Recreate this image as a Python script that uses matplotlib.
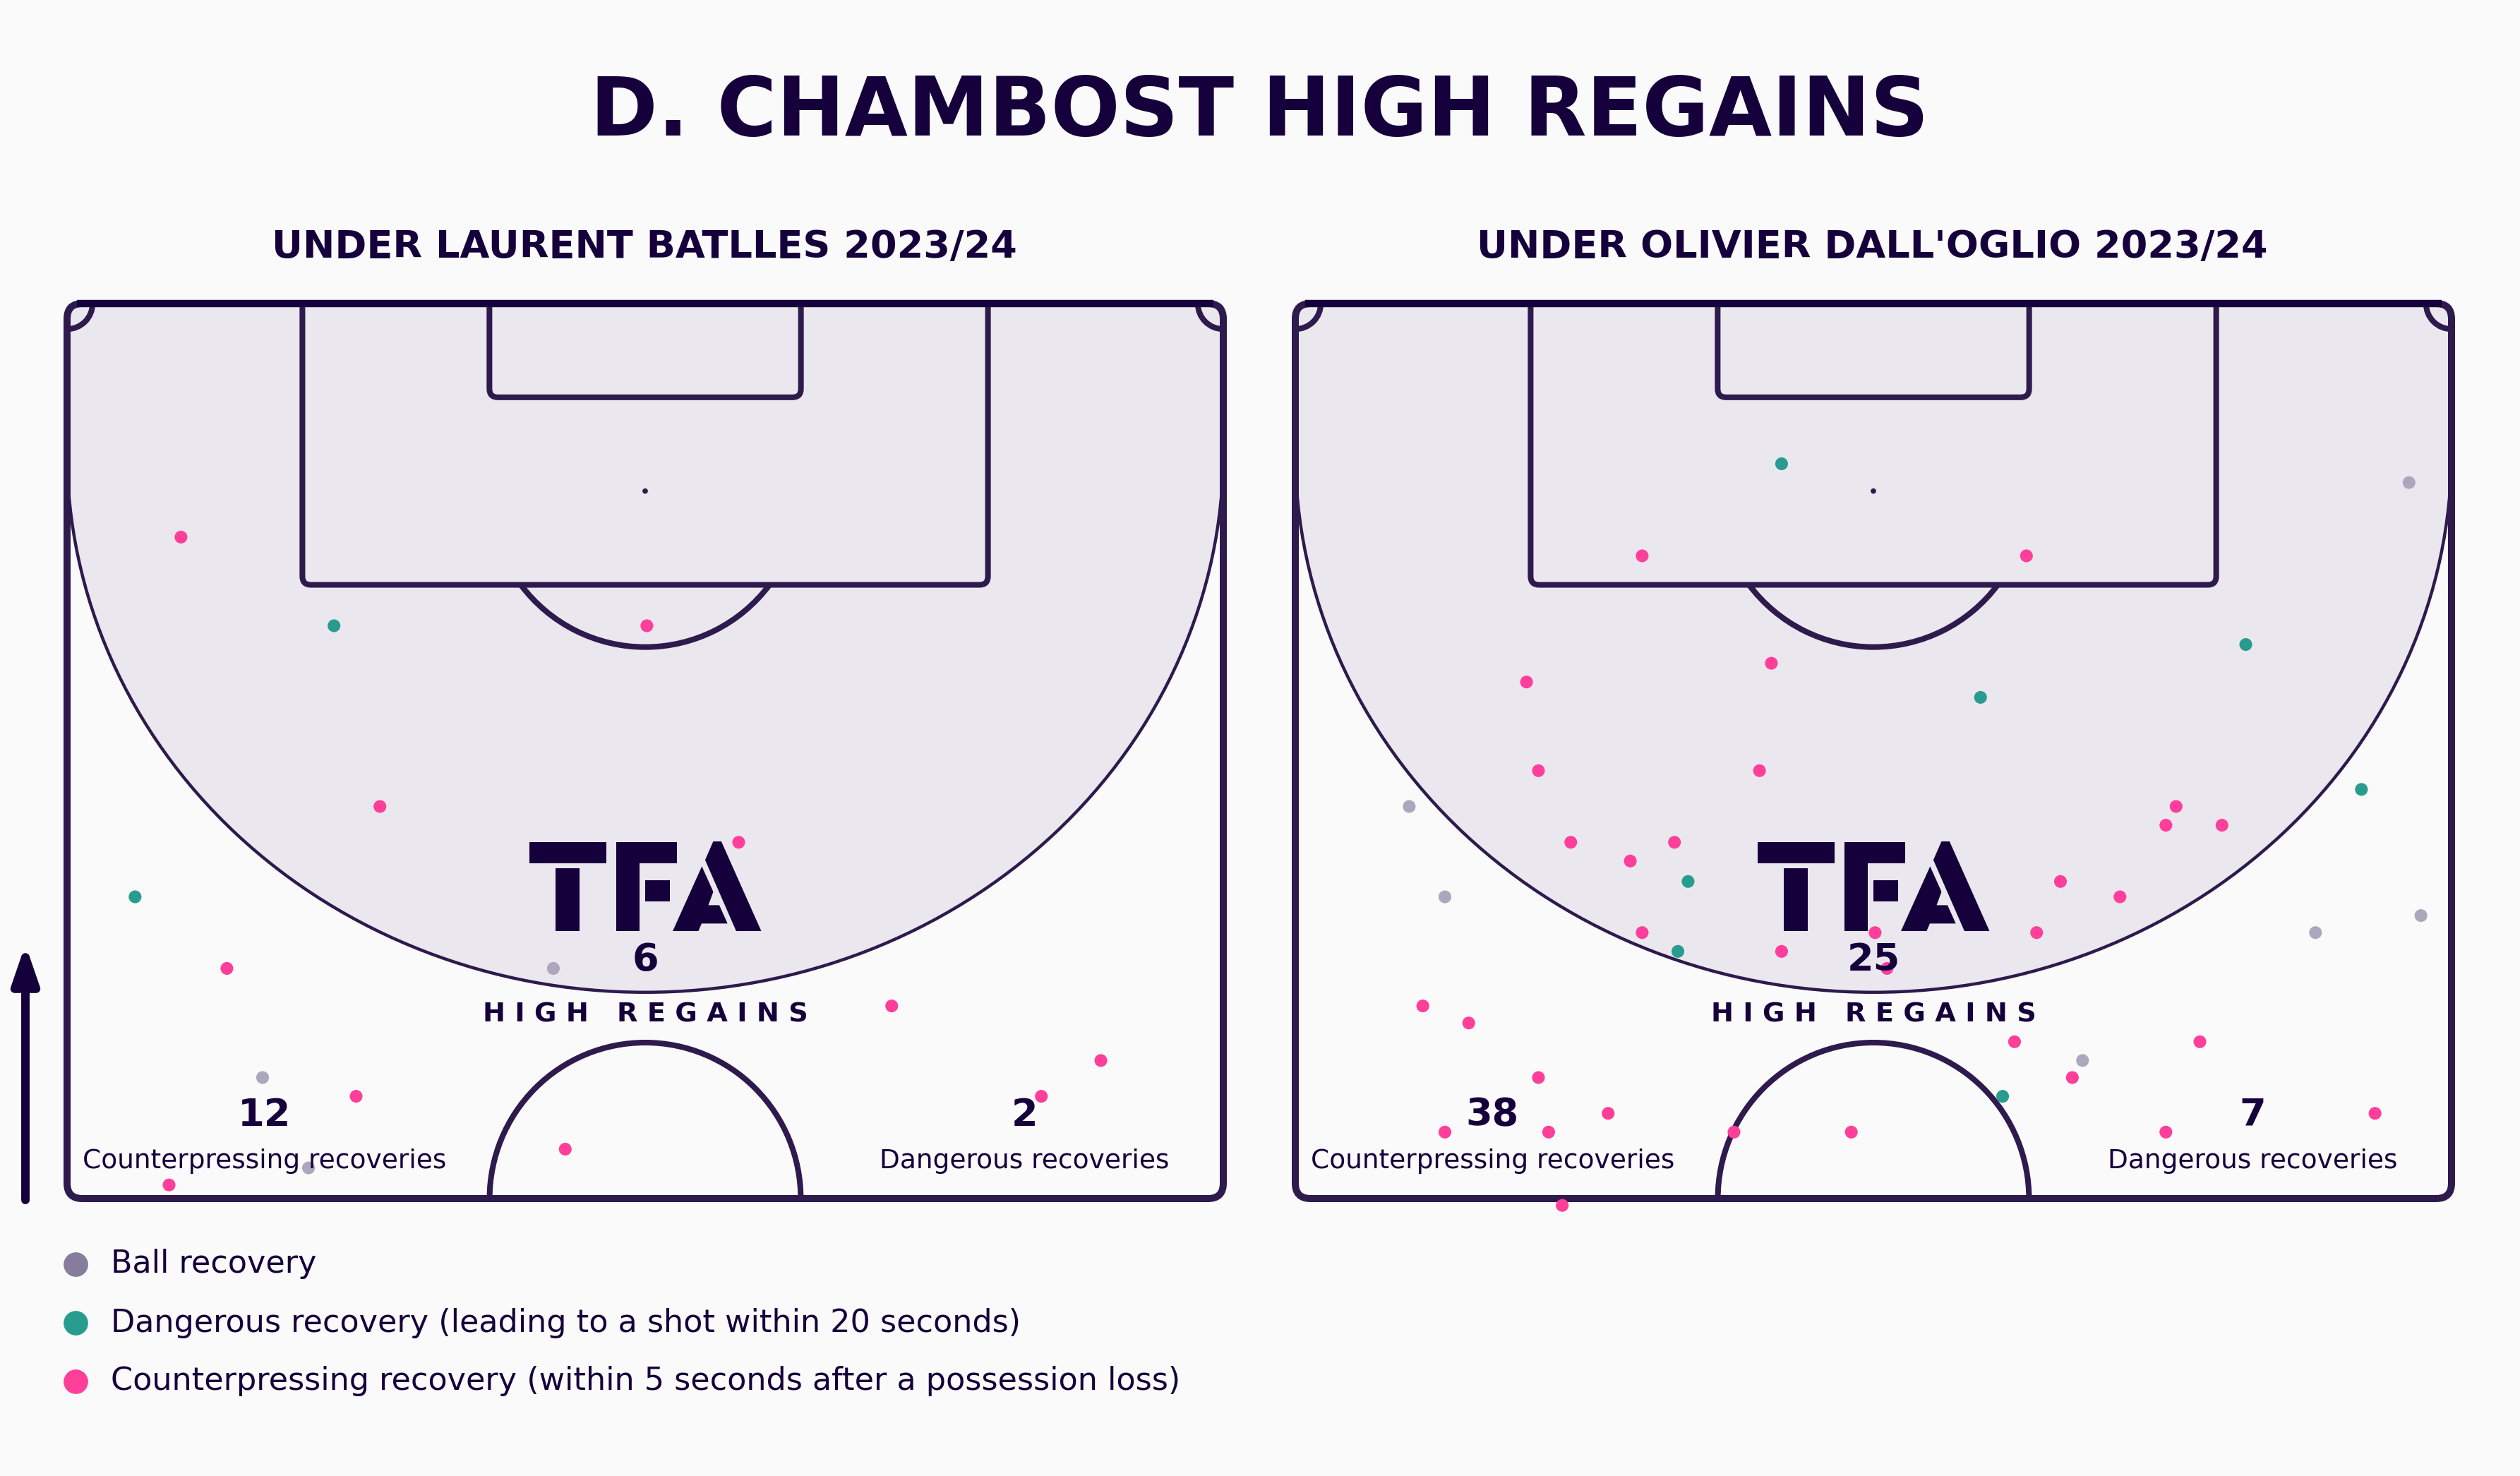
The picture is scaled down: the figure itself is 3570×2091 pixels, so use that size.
import numpy as np
import matplotlib.pyplot as plt
from matplotlib.patches import Polygon, Arc, Circle, FancyBboxPatch

# colours
BG = "#FAFAFA"
ZONE = "#EAE7EE"
LINE = "#2E1A4D"
INK = "#16003B"
GREY = "#867C9B"
GREY_PT = "#ADA7BD"
TEAL = "#289D8F"
PINK = "#FF3F9A"

# pitch is 68 wide, half pitch 52.5 long (0 = halfway line, 52.5 = goal line)
# --- Laurent Batlles
lb_pink_x = [6.7, 34.1, 18.4, 39.5, 9.4, 48.5, 60.8, 17.0, 57.3, 29.3, 6.0]
lb_pink_y = [38.8, 33.6, 23.0, 20.9, 13.5, 11.3, 8.1, 6.0, 6.0, 2.9, 0.8]
lb_teal_x = [15.7, 4.0]
lb_teal_y = [33.6, 17.7]
lb_grey_x = [28.6, 11.5, 14.2]
lb_grey_y = [13.5, 7.1, 1.8]

# --- Olivier Dall'Oglio
od_pink_x = [20.4, 43.0, 28.0, 13.6, 14.3, 27.3, 51.8, 51.2, 54.5, 16.2, 22.3,
             19.7, 45.0, 48.5, 20.4, 34.1, 43.6, 28.6, 34.8, 7.5, 10.2, 42.3,
             53.2, 14.3, 45.7, 18.4, 63.5, 8.8, 14.9, 25.8, 32.7, 51.2, 15.7]
od_pink_y = [37.7, 37.7, 31.4, 30.3, 25.1, 25.1, 23.0, 21.9, 21.9, 20.9, 20.9,
             19.8, 18.6, 17.7, 15.6, 15.6, 15.6, 14.5, 13.5, 11.3, 10.3, 9.2,
             9.2, 7.1, 7.1, 5.0, 5.0, 3.9, 3.9, 3.9, 3.9, 3.9, -0.4]
od_teal_x = [28.6, 55.9, 40.3, 62.7, 23.1, 22.5, 41.6]
od_teal_y = [43.1, 32.5, 29.4, 24.0, 18.6, 14.5, 6.0]
od_grey_x = [65.5, 6.7, 8.8, 66.2, 60.0, 46.3]
od_grey_y = [42.0, 23.0, 17.7, 16.6, 15.6, 8.1]

titles = ["UNDER LAURENT BATLLES 2023/24", "UNDER OLIVIER DALL'OGLIO 2023/24"]
high_regains = [6, 25]
counterpress = [12, 38]
dangerous = [2, 7]

legend_labels = ["Ball recovery",
                 "Dangerous recovery (leading to a shot within 20 seconds)",
                 "Counterpressing recovery (within 5 seconds after a possession loss)"]
legend_colors = [GREY, TEAL, PINK]

W, H = 3570, 2091
plt.rcParams['font.family'] = ['DejaVu Sans']
fig = plt.figure(figsize=(W / 100, H / 100), dpi=100)
fig.patch.set_facecolor(BG)


def fx(px):
    return px / W


def fy(py):
    return 1 - py / H


# TFA logo shapes, in logo pixel units
logo_shapes = [
    [(393, 130), (678, 130), (678, 218), (393, 218)],
    [(492, 240), (580, 240), (580, 507), (492, 507)],
    [(717, 130), (941, 130), (941, 218), (803, 218), (803, 507), (717, 507)],
    [(823, 290), (915, 290), (915, 380), (823, 380)],
    [(1075, 126), (1105, 126), (1253, 507), (1160, 507), (1045, 205)],
    [(1033, 232), (1128, 475), (1032, 475), (1020, 507), (925, 507)],
]
logo_hole = [(1077, 335), (1100, 397), (1057, 397)]


def logo_xy(pts):
    return [(34 + (u - 823) / 2.613 / 24.1, 20.95 - (v - 126) / 3.0 / 24.15) for u, v in pts]


def draw_pitch(ax):
    ax.set_xlim(0, 68)
    ax.set_ylim(0, 52.5)
    ax.axis('off')
    ax.set_facecolor(BG)

    # shaded high regain zone
    cy, b = 43.8, 31.7
    t = np.linspace(np.pi, 2 * np.pi, 200)
    zone = list(zip(34 + 34 * np.cos(t), cy + b * np.sin(t))) + [(68, 52.5), (0, 52.5)]
    ax.add_patch(Polygon(zone, closed=True, fc=ZONE, ec='none', zorder=1))
    ax.add_patch(Arc((34, cy), 68, 2 * b, theta1=180, theta2=360, color=LINE, lw=3.2, zorder=2))

    kw = dict(fill=False, ec=LINE, lw=5.8, zorder=3)
    ax.add_patch(FancyBboxPatch((13.84, 36), 40.32, 20, boxstyle="round,pad=0,rounding_size=0.5", **kw))
    ax.add_patch(FancyBboxPatch((24.84, 47), 18.32, 10, boxstyle="round,pad=0,rounding_size=0.5", **kw))
    ax.add_patch(Arc((34, 41.5), 18.3, 18.3, theta1=216.9, theta2=323.1, color=LINE, lw=5.8, zorder=3))
    ax.add_patch(Arc((34, 0), 18.3, 18.3, theta1=0, theta2=180, color=LINE, lw=5.8, zorder=3))
    ax.add_patch(Arc((0, 52.5), 3, 3, theta1=270, theta2=360, color=LINE, lw=5.8, zorder=3))
    ax.add_patch(Arc((68, 52.5), 3, 3, theta1=180, theta2=270, color=LINE, lw=5.8, zorder=3))
    ax.add_patch(Circle((34, 41.5), 0.13, color=LINE, zorder=3))
    ax.add_patch(FancyBboxPatch((0, 0), 68, 52.5, boxstyle="round,pad=0,rounding_size=0.9",
                                fill=False, ec=LINE, lw=7.2, zorder=4, clip_on=False))
    # goal line a touch darker, as in the source
    ax.plot([0.6, 67.4], [52.5, 52.5], color=INK, lw=7.5, solid_capstyle='butt', zorder=4, clip_on=False)

    for shp in logo_shapes:
        ax.add_patch(Polygon(logo_xy(shp), closed=True, fc=INK, ec='none', zorder=4))
    ax.add_patch(Polygon(logo_xy(logo_hole), closed=True, fc=ZONE, ec='none', zorder=4))


pitches = [
    (lb_grey_x, lb_grey_y, lb_teal_x, lb_teal_y, lb_pink_x, lb_pink_y),
    (od_grey_x, od_grey_y, od_teal_x, od_teal_y, od_pink_x, od_pink_y),
]
lefts = [95, 1835]
centers = [913, 2652]

for i, (gx, gy, tx, ty, px, py) in enumerate(pitches):
    ax = fig.add_axes([fx(lefts[i]), fy(1698), 1638 / W, 1268 / H])
    draw_pitch(ax)

    ax.scatter(gx, gy, s=170, c=GREY_PT, edgecolors='none', zorder=5, clip_on=False)
    ax.scatter(tx, ty, s=170, c=TEAL, edgecolors='none', zorder=5, clip_on=False)
    ax.scatter(px, py, s=170, c=PINK, edgecolors='none', zorder=5, clip_on=False)

    ax.text(34, 14.0, str(high_regains[i]), ha='center', va='center', fontsize=39,
            fontweight='bold', color=INK, zorder=6)
    ax.text(34, 10.8, "H I G H   R E G A I N S", ha='center', va='center', fontsize=27.5,
            fontweight='bold', color=INK, zorder=6)
    ax.text(11.6, 4.9, str(counterpress[i]), ha='center', va='center', fontsize=39,
            fontweight='bold', color=INK, zorder=6)
    ax.text(11.6, 2.2, "Counterpressing recoveries", ha='center', va='center', fontsize=27,
            color=INK, zorder=6)
    ax.text(56.3, 4.9, str(dangerous[i]), ha='center', va='center', fontsize=39,
            fontweight='bold', color=INK, zorder=6)
    ax.text(56.3, 2.2, "Dangerous recoveries", ha='center', va='center', fontsize=27,
            color=INK, zorder=6)

    fig.text(fx(centers[i]), fy(350), titles[i], ha='center', va='center', fontsize=39,
             fontweight='bold', color=INK)

fig.text(fx(1784), fy(160), "D. CHAMBOST HIGH REGAINS", ha='center', va='center',
         fontsize=83, fontweight='bold', color=INK)

# direction of play arrow
fig.add_artist(plt.Annotation('', xy=(fx(36), fy(1338)), xytext=(fx(36), fy(1700)),
                              xycoords='figure fraction', textcoords='figure fraction',
                              arrowprops=dict(arrowstyle='-|>,head_length=32,head_width=11',
                                              mutation_scale=1, lw=8.6, color=INK,
                                              capstyle='round', shrinkA=0, shrinkB=0)))

# legend
leg_y = [1791, 1874, 1957]
for lab, col, ly in zip(legend_labels, legend_colors, leg_y):
    fig.add_artist(plt.Line2D([fx(107)], [fy(ly)], marker='o', markersize=25, color=col,
                              markeredgewidth=0, transform=fig.transFigure))
    fig.text(fx(157), fy(ly), lab, ha='left', va='center', fontsize=32, color=INK)

fig.savefig("out.png", dpi=100, facecolor=BG)
